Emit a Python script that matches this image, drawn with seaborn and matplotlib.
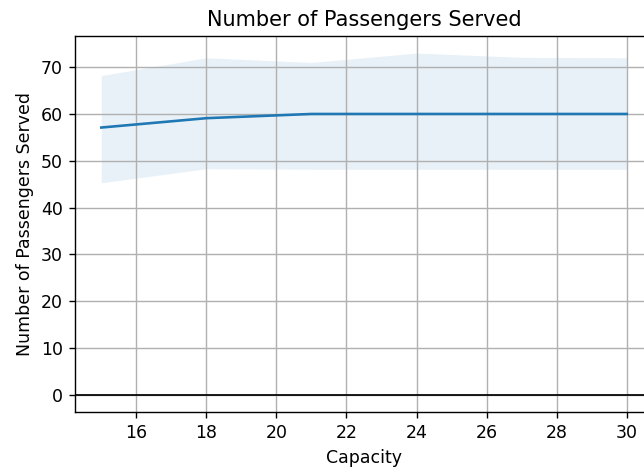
import pandas as pd
import seaborn as sns
import matplotlib
matplotlib.use("Agg")
import matplotlib.pyplot as plt

# capacity vs passengers served (mean and spread band)
capacity = [15, 18, 21, 24, 27, 30]
served_mean = [57.1, 59.1, 60.0, 60.0, 60.0, 60.0]
served_low = [45.3, 48.3, 48.2, 48.2, 48.2, 48.2]
served_high = [68.2, 72.0, 71.0, 73.0, 72.1, 72.0]

df = pd.DataFrame({"Capacity": capacity, "Served": served_mean,
                   "low": served_low, "high": served_high})

# rendered at 125 dpi so the default sizes come out ~1.25x bigger
fig = plt.figure(figsize=(644 / 125, 471 / 125), dpi=125)
ax = fig.add_axes([75 / 644, 59 / 471, 578 / 644, 376 / 471])

sns.lineplot(data=df, x="Capacity", y="Served", color="C0", ax=ax)
ax.fill_between(df["Capacity"], df["low"], df["high"], color="C0", alpha=0.1, linewidth=0)
ax.axhline(0, color="black", linewidth=1)

ax.set_title("Number of Passengers Served")
ax.set_xlabel("Capacity")
ax.set_ylabel("Number of Passengers Served")
ax.grid(True)

fig.savefig("out.png", dpi=125)
